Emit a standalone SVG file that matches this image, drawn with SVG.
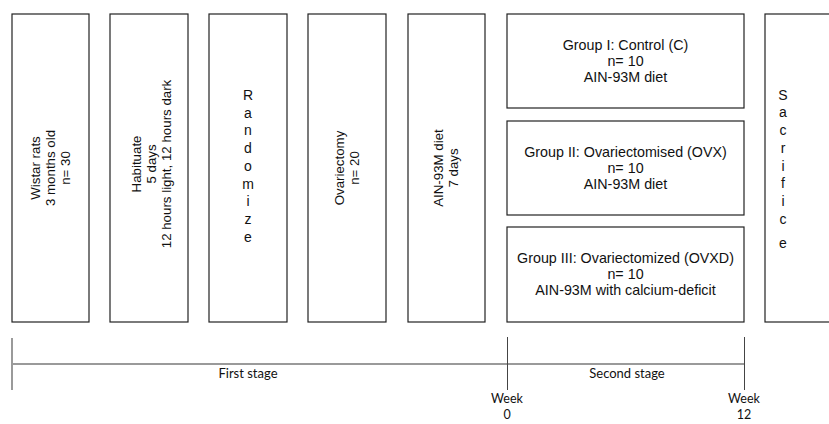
<svg xmlns="http://www.w3.org/2000/svg" width="829" height="424" viewBox="0 0 829 424">
<style>
.box{fill:#fff;stroke:#222;stroke-width:1.2}
.t{font-family:"Liberation Sans",Arial,sans-serif;font-size:13.3px;fill:#111;text-anchor:middle}
.g{font-family:"Liberation Sans",Arial,sans-serif;font-size:14.3px;fill:#111;text-anchor:middle}
.l{font-family:"Liberation Sans",Arial,sans-serif;font-size:14px;fill:#111;text-anchor:middle}
.s{font-family:Lato,"Open Sans",sans-serif;font-size:13px;fill:#111;text-anchor:middle}
.w{font-family:Lato,"Open Sans",sans-serif;font-size:12.5px;fill:#111;text-anchor:middle}
.grey{stroke:#9a9a9a;stroke-width:2;fill:none}
.tick{stroke:#444;stroke-width:1;fill:none}
</style>
<rect width="829" height="424" fill="#fff"/>
<g id="wistar">
<rect class="box" x="12" y="14" width="77" height="308"/>
<g transform="translate(50,168) rotate(-90)">
<text class="t" y="-10.5">Wistar rats</text>
<text class="t" y="4.5">3 months old</text>
<text class="t" y="19.5">n= 30</text>
</g>
</g>
<g id="habituate">
<rect class="box" x="110" y="14" width="78" height="308"/>
<g transform="translate(151,164) rotate(-90)">
<text class="t" y="-10.5">Habituate</text>
<text class="t" y="4.5">5 days</text>
<text class="t" y="19.5">12 hours light, 12 hours dark</text>
</g>
</g>
<g id="randomize">
<rect class="box" x="209" y="14" width="78" height="308"/>
<g class="l">
<text x="248" y="100">R</text>
<text x="248" y="118">a</text>
<text x="248" y="135">n</text>
<text x="248" y="153">d</text>
<text x="248" y="171">o</text>
<text x="248" y="189">m</text>
<text x="248" y="206">i</text>
<text x="248" y="224">z</text>
<text x="248" y="242">e</text>
</g>
</g>
<g id="ovariectomy">
<rect class="box" x="308" y="14" width="78" height="308"/>
<g transform="translate(347,168) rotate(-90)">
<text class="t" y="-3">Ovariectomy</text>
<text class="t" y="12">n= 20</text>
</g>
</g>
<g id="diet">
<rect class="box" x="408" y="14" width="77" height="308"/>
<g transform="translate(446,168) rotate(-90)">
<text class="t" y="-3">AIN-93M diet</text>
<text class="t" y="12">7 days</text>
</g>
</g>
<g id="group1">
<rect class="box" x="507" y="14" width="237" height="94"/>
<text class="g" x="625.5" y="50">Group I: Control (C)</text>
<text class="g" x="625.5" y="66">n= 10</text>
<text class="g" x="625.5" y="82">AIN-93M diet</text>
</g>
<g id="group2">
<rect class="box" x="507" y="121" width="237" height="94"/>
<text class="g" x="625.5" y="157">Group II: Ovariectomised (OVX)</text>
<text class="g" x="625.5" y="173">n= 10</text>
<text class="g" x="625.5" y="189">AIN-93M diet</text>
</g>
<g id="group3">
<rect class="box" x="507" y="227" width="237" height="95"/>
<text class="g" x="625.5" y="263">Group III:  Ovariectomized (OVXD)</text>
<text class="g" x="625.5" y="279">n= 10</text>
<text class="g" x="625.5" y="295">AIN-93M with calcium-deficit</text>
</g>
<g id="sacrifice">
<rect class="box" x="765" y="14" width="80" height="308"/>
<g class="l">
<text x="783" y="100">S</text>
<text x="783" y="117">a</text>
<text x="783" y="135">c</text>
<text x="783" y="153">r</text>
<text x="783" y="171">i</text>
<text x="783" y="188">f</text>
<text x="783" y="206">i</text>
<text x="783" y="224">c</text>
<text x="783" y="248">e</text>
</g>
</g>
<g id="timeline">
<line class="grey" x1="12" y1="338" x2="12" y2="390"/>
<line class="grey" x1="12" y1="364" x2="744" y2="364"/>
<line class="tick" x1="507.5" y1="337" x2="507.5" y2="390"/>
<line class="tick" x1="744.5" y1="337" x2="744.5" y2="390"/>
</g>
<g id="labels">
<text class="s" x="248" y="378">First stage</text>
<text class="s" x="627" y="378">Second stage</text>
<text class="w" x="507" y="403">Week</text>
<text class="w" x="507" y="419">0</text>
<text class="w" x="744" y="403">Week</text>
<text class="w" x="744" y="419">12</text>
</g>
</svg>
